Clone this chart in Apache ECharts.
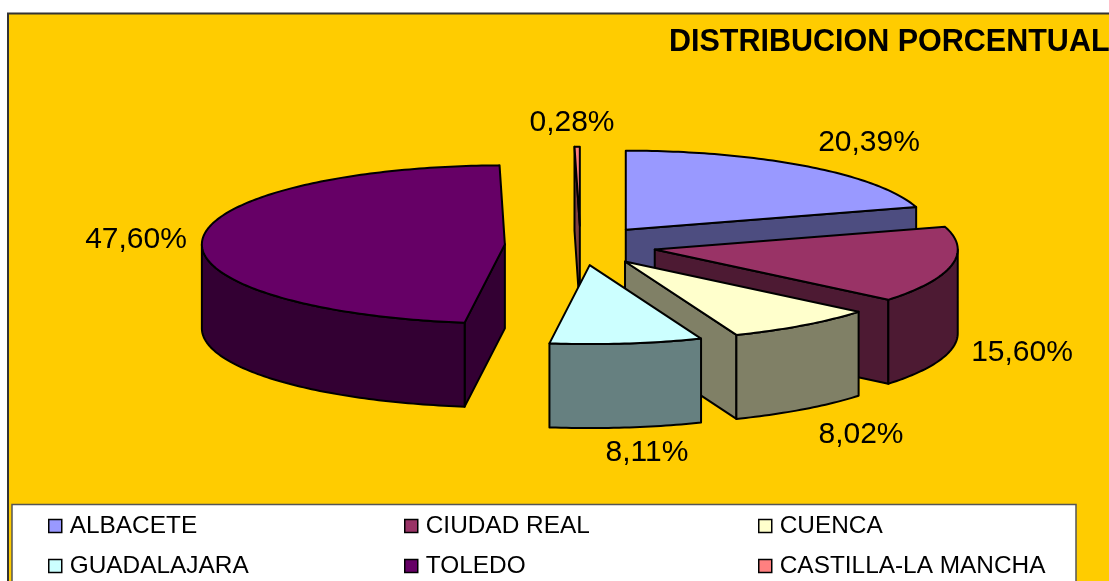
<!DOCTYPE html>
<html>
<head>
<meta charset="utf-8">
<style>html,body{margin:0;padding:0;background:#fff;overflow:hidden}#chart{width:1109px;height:581px}</style>
<script src="https://cdn.jsdelivr.net/npm/echarts@6/dist/echarts.min.js"></script>
</head>
<body>
<div id="chart"></div>
<script>
const categories = ['ALBACETE', 'CIUDAD REAL', 'CUENCA', 'GUADALAJARA', 'TOLEDO', 'CASTILLA-LA MANCHA'];
const shares = [20.39, 15.60, 8.02, 8.11, 47.60, 0.28];
const topColors = ['#9999FF', '#993366', '#FFFFCC', '#CCFFFF', '#660066', '#FF8080'];
const sideColors = ['#4D4D80', '#4D1A33', '#808066', '#668080', '#330033', '#804040'];
const chartTitle = 'DISTRIBUCION PORCENTUAL';

// drawing order, back to front
const paintOrder = [4, 5, 0, 1, 2, 3];
// label centres in pixels
const labelCentres = [[869, 143], [1022, 353], [861, 435], [647, 453], [136, 240], [572, 123]];
const FONT = '"Liberation Sans", Arial, sans-serif';
const EXPLODE = 0.25, DEPTH = 1.063;

const total = shares.reduce((a, b) => a + b, 0);
const rad = d => d * Math.PI / 180;
const starts = [];
shares.reduce((acc, v, i) => { starts[i] = acc; return acc + v / total * 360; }, 0);

function makeRender(idx) {
  return function (params, api) {
    const share = api.value(2);
    const s = starts[idx], e = s + share / total * 360, m = (s + e) / 2;
    const ox = EXPLODE * Math.sin(rad(m)), oy = -EXPLODE * Math.cos(rad(m));
    const rim = (deg, drop) => api.coord([ox + Math.sin(rad(deg)), oy - Math.cos(rad(deg)) + (drop ? DEPTH : 0)]);
    const apex = drop => api.coord([ox, oy + (drop ? DEPTH : 0)]);
    const styleSide = { fill: sideColors[idx], stroke: '#000', lineWidth: 2, lineJoin: 'round' };
    const children = [];
    const quad = deg => ({ type: 'polygon', shape: { points: [apex(false), rim(deg, false), rim(deg, true), apex(true)] }, style: styleSide });
    if (s > 180 && s < 360) children.push(quad(s));
    if (e > 0 && e < 180) children.push(quad(e));
    const from = Math.max(s, 90), to = Math.min(e, 270);
    if (to > from) {
      const upper = [], lower = [];
      for (let d = from; d < to; d += 1) { upper.push(rim(d, false)); lower.unshift(rim(d, true)); }
      upper.push(rim(to, false)); lower.unshift(rim(to, true));
      children.push({ type: 'polygon', shape: { points: upper.concat(lower) }, style: styleSide });
    }
    const topPts = [apex(false)];
    for (let d = s; d < e; d += 1) topPts.push(rim(d, false));
    topPts.push(rim(e, false));
    children.push({ type: 'polygon', shape: { points: topPts }, style: { fill: topColors[idx], stroke: '#000', lineWidth: 2, lineJoin: 'round' } });
    children.push({
      type: 'text', z2: 100,
      style: {
        text: share.toFixed(2).replace('.', ',') + '%',
        x: labelCentres[idx][0], y: labelCentres[idx][1],
        fill: '#000', font: '30px ' + FONT, textAlign: 'center', textVerticalAlign: 'middle'
      }
    });
    return { type: 'group', children };
  };
}

const legendBase = {
  orient: 'vertical', top: 514, padding: 0, itemWidth: 13, itemHeight: 13, itemGap: 16,
  selectedMode: false, icon: 'rect',
  itemStyle: { borderColor: '#000', borderWidth: 1.5 },
  textStyle: { color: '#000', fontFamily: FONT, fontSize: 24.4, padding: [0, 0, 0, 3], lineHeight: 22 }
};

const chart = echarts.init(document.getElementById('chart'), null, { renderer: 'canvas' });
chart.setOption({
  animation: false,
  backgroundColor: '#fff',
  title: {
    text: chartTitle, left: 669, top: 27, padding: 0,
    textStyle: { color: '#000', fontFamily: FONT, fontSize: 30.5, fontWeight: 'bold' }
  },
  grid: { left: 126, top: 87.5, width: 909, height: 395, containLabel: false },
  xAxis: { type: 'value', min: -1.5, max: 1.5, show: false },
  yAxis: { type: 'value', min: -2, max: 3, inverse: true, show: false },
  legend: [
    Object.assign({}, legendBase, { left: 48, data: [categories[0], categories[3]] }),
    Object.assign({}, legendBase, { left: 404, data: [categories[1], categories[4]] }),
    Object.assign({}, legendBase, { left: 758, data: [categories[2], categories[5]] })
  ],
  graphic: {
    z: -5,
    elements: [
      { type: 'rect', silent: true, shape: { x: 8, y: 13.5, width: 1110, height: 580 }, style: { fill: '#FFCC00', stroke: '#333', lineWidth: 2 } },
      { type: 'rect', silent: true, shape: { x: 12, y: 504.5, width: 1064, height: 90 }, style: { fill: '#fff', stroke: '#555', lineWidth: 1.5 } }
    ]
  },
  series: paintOrder.map(i => ({
    type: 'custom',
    name: categories[i],
    coordinateSystem: 'cartesian2d',
    clip: false,
    silent: true,
    itemStyle: { color: topColors[i] },
    encode: { x: 0, y: 1 },
    data: [[0, 0, shares[i]]],
    renderItem: makeRender(i)
  }))
});
</script>
</body>
</html>
